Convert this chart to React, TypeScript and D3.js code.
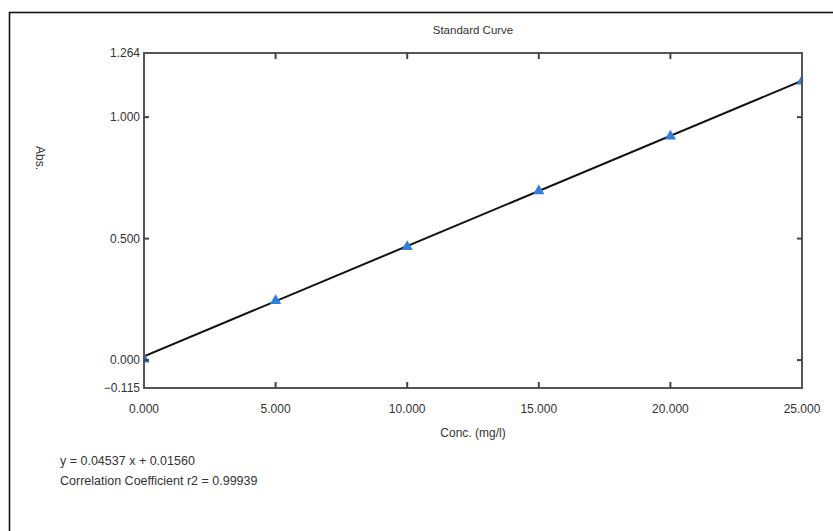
import React from 'react';
import * as d3 from 'd3';

// standard points
const conc = [0, 5, 10, 15, 20, 25];
const absorb = [0.003, 0.244, 0.466, 0.696, 0.921, 1.148];

const xTicks = [0, 5, 10, 15, 20, 25];
const yTicks = [-0.115, 0, 0.5, 1.0, 1.264];
const yInnerTicks = [0, 0.5, 1.0];
const xInnerTicks = [5, 10, 15, 20];

const slope = 0.04537;
const intercept = 0.0156;
const r2 = 0.99939;

const FONT = "'Liberation Sans Narrow', 'Arial Narrow', 'Liberation Sans', Arial, sans-serif";

export default function App() {
    const width = 833, height = 531;
    const left = 144, right = 802, top = 53, bottom = 388;

    const x = d3.scaleLinear().domain([0, 25]).range([left, right]);
    const y = d3.scaleLinear().domain([-0.115, 1.264]).range([bottom, top]);

    const fit = d3.line<number>()
        .x(d => x(d))
        .y(d => y(slope * d + intercept));

    const tri = d3.symbol().type(d3.symbolTriangle).size(55);

    return (
        <svg width={width} height={height}
             style={{position: 'absolute', left: 0, top: 0, background: '#fff'}}
             fontFamily={FONT}>
            <rect x={9.5} y={12.5} width={840} height={540} fill="none" stroke="#111" strokeWidth={1.6} />

            <text x={(left + right) / 2} y={34} textAnchor="middle" fontSize={11.5} fill="#333">Standard Curve</text>

            <defs>
                <clipPath id="plotClip">
                    <rect x={left} y={top} width={right - left} height={bottom - top} />
                </clipPath>
            </defs>

            <g clipPath="url(#plotClip)">
                <path d={fit([0, 25]) || ''} fill="none" stroke="#111" strokeWidth={2} />
                {conc.map((c, i) =>
                    <path key={i} d={tri() || ''}
                          transform={"translate(" + x(c) + "," + y(absorb[i]) + ")"}
                          fill="#2f7fe0" />
                )}
            </g>

            <rect x={left} y={top} width={right - left} height={bottom - top}
                  fill="none" stroke="#555" strokeWidth={2} />

            {yInnerTicks.map((t, i) =>
                <g key={i} stroke="#444" strokeWidth={2}>
                    <line x1={left} x2={left + 5} y1={y(t)} y2={y(t)} />
                    <line x1={right} x2={right - 5} y1={y(t)} y2={y(t)} />
                </g>
            )}
            {xInnerTicks.map((t, i) =>
                <g key={i} stroke="#444" strokeWidth={2}>
                    <line x1={x(t)} x2={x(t)} y1={bottom} y2={bottom - 6} />
                    <line x1={x(t)} x2={x(t)} y1={top} y2={top + 6} />
                </g>
            )}

            {yTicks.map((t, i) =>
                <text key={i} x={left - 4} y={y(t)} dy="0.35em" textAnchor="end"
                      fontSize={12} fill="#333">{d3.format('.3f')(t)}</text>
            )}
            {xTicks.map((t, i) =>
                <text key={i} x={x(t)} y={413} textAnchor="middle"
                      fontSize={12} fill="#333">{d3.format('.3f')(t)}</text>
            )}

            <text x={(left + right) / 2} y={437} textAnchor="middle" fontSize={12} fill="#333">Conc. (mg/l)</text>
            <text transform="translate(36,158) rotate(90)" textAnchor="middle" fontSize={12} fill="#333">Abs.</text>

            <text x={60} y={465} fontSize={12.5} fill="#333">
                {"y = " + d3.format('.5f')(slope) + " x + " + d3.format('.5f')(intercept)}
            </text>
            <text x={60} y={485} fontSize={12.5} fill="#333">
                {"Correlation Coefficient r2 = " + d3.format('.5f')(r2)}
            </text>
        </svg>
    );
}
